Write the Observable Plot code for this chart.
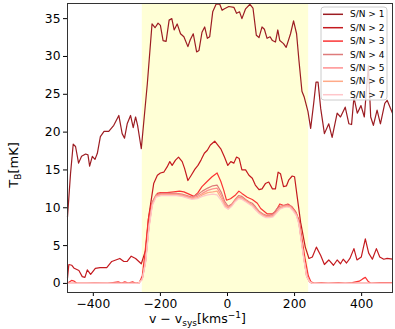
<!DOCTYPE html>
<html><head><meta charset="utf-8">
<script src="https://cdn.jsdelivr.net/npm/d3@7"></script>
<script src="https://cdn.jsdelivr.net/npm/@observablehq/plot@0.6"></script>
<style>body{margin:0;background:#fff;} svg{display:block}</style>
</head><body><div id="chart"></div>
<script>
const seriesNames = ["S/N > 1","S/N > 2","S/N > 3","S/N > 4","S/N > 5","S/N > 6","S/N > 7"];
const seriesColors = ["#9c1c22","#c41a1f","#fb3434","#de7b7b","#ff9090","#ffaa88","#ffc6ca"];
const xTicks = [-400,-200,0,200,400];
const yTicks = [0,5,10,15,20,25,30,35];
const band = {lo:-254, hi:242};

// S/N > 1
const v1 = [-477,-468,-460,-453,-444,-435,-423,-416,-411,-403,-395,-388,-379,-368,-354,-339,-324,-314,-307,-299,-289,-281,-274,-268,-257,-239,-225,-216,-207,-200,-192,-183,-174,-166,-159,-150,-140,-130,-118,-111,-102,-92,-85,-76,-68,-60,-53,-44,-34,-23,-16,-9,4,19,27,36,43,54,67,76,86,94,103,110,118,127,134,143,150,156,167,175,188,197,206,213,222,229,240,248,257,264,270,278,289,302,312,327,337,351,362,370,377,387,398,408,420,427,435,446,456,469,476,492];
const t1 = [8.8,14.5,18.4,18.1,15.9,16.8,17.1,17.0,15.5,16.8,16.4,17.2,19.4,20.1,20.1,20.9,22.2,19.8,19.2,21.1,22.2,20.6,22.0,20.9,17.8,26.4,34.3,33.8,34.4,34.1,32.1,32.0,34.8,35.0,33.5,34.3,33.0,32.6,31.3,32.2,33.0,30.6,30.8,33.2,33.9,32.4,32.6,35.9,36.9,36.9,36.1,36.3,36.6,36.5,35.7,35.9,35.0,36.3,36.9,36.4,32.8,32.5,33.9,33.6,32.4,32.6,32.1,31.9,33.5,32.1,31.7,31.2,33.0,34.7,33.0,29.5,25.4,24.6,22.7,20.5,23.8,26.6,26.6,23.1,19.8,21.1,19.3,22.5,22.0,23.3,21.1,21.0,24.6,22.5,23.5,22.0,28.8,22.0,20.9,22.9,21.1,23.8,24.2,22.5];

// S/N > 2
const v2 = [-477,-473,-464,-457,-443,-433,-425,-418,-408,-394,-380,-360,-345,-321,-309,-299,-287,-274,-257,-244,-235,-220,-209,-200,-190,-180,-172,-165,-155,-146,-135,-128,-118,-108,-97,-88,-79,-69,-60,-51,-38,-20,-9,1,10,19,27,35,43,54,64,74,83,94,103,113,123,134,143,151,158,167,176,183,193,200,208,218,232,243,253,265,278,289,302,316,327,337,345,355,365,377,386,399,411,421,432,444,454,466,476,492];
const t2 = [0.7,2.5,2.4,2.0,1.7,0.9,0.8,1.8,1.2,2.0,2.1,2.1,2.9,3.3,2.9,2.9,3.6,3.3,2.6,4.4,8.8,13.2,14.3,14.6,14.7,15.4,16.1,15.6,16.3,16.7,16.1,15.2,13.6,14.3,15.1,15.6,16.3,17.2,17.6,18.3,18.8,17.8,16.7,15.6,16.1,15.9,16.7,16.5,15.0,15.0,14.3,13.9,13.0,12.4,12.5,13.2,13.4,12.5,12.5,14.7,14.5,12.8,12.9,13.7,14.2,14.1,11.4,8.1,4.8,3.3,3.5,4.8,3.7,2.5,3.1,2.4,3.1,2.6,3.2,2.7,3.3,4.6,3.1,3.5,5.9,4.0,3.2,4.6,3.5,3.2,3.3,3.2];

// S/N > 3
const v3 = [-477,-475,-465,-457,-448,-419,-398,-357,-326,-316,-306,-296,-283,-273,-263,-254,-246,-236,-227,-220,-209,-200,-180,-160,-143,-130,-115,-100,-88,-76,-60,-46,-31,-20,-11,-3,9,24,34,43,59,74,89,99,118,134,143,156,168,180,193,203,213,220,232,241,249,259,280,300,331,351,372,393,403,411,419,428,454,492];
const t3 = [0.0,0.1,0.4,0.3,0.0,0.0,0.05,0.0,0.2,0.05,0.2,0.05,0.2,0.0,0.1,1.0,4.0,8.5,10.5,11.0,11.9,12.0,12.0,12.1,12.2,12.1,11.8,11.5,12.0,12.8,13.5,14.1,14.6,13.5,12.3,11.0,11.2,11.7,12.2,11.9,11.4,11.1,10.6,9.9,9.2,9.2,9.5,10.5,10.3,10.5,10.1,9.5,8.4,6.5,3.1,1.0,0.2,0.0,0.1,0.0,0.1,0.0,0.1,0.3,0.6,0.8,0.3,0.0,0.1,0.1];

// S/N > 4 ... 7 (shared velocity grid)
const vs = [-477,-316,-277,-265,-254,-244,-234,-224,-213,-198,-183,-167,-152,-136,-121,-106,-90,-75,-59,-44,-31,-18,-8,2,13,23,33,43,54,64,74,84,95,105,115,126,136,146,156,167,177,187,197,206,213,220,229,236,245,254,300,492];
const t4 = [0,0,0,0.05,0.65,3.1,7.8,10.8,11.7, 11.9,11.9,11.9,11.9,11.8,11.6,11.4,11.7,12.2,12.6, 12.9,13.0,12.0,10.8,10.2,10.5,11.1,11.6,11.5,11.1, 10.8,10.6,10.1,9.5,9.2,9.0,9.0,9.2,9.8,10.2, 10.3,10.4,10.3,9.8,9.2,8.1,5.9,3.0,1.0,0.2, 0,0,0];
const t5 = [0,0,0,0.05,0.6,3.0,7.6,10.6,11.6, 11.8,11.8,11.8,11.8,11.7,11.5,11.3,11.5,11.9,12.3, 12.5,12.6,11.6,10.5,10.0,10.4,11.0,11.4,11.3,11.0, 10.7,10.4,9.9,9.4,9.1,8.9,8.9,9.0,9.5,10.0, 10.2,10.3,10.2,9.7,9.1,8.0,5.8,3.0,1.0,0.2, 0,0,0];
const t6 = [0,0,0,0.05,0.55,2.9,7.5,10.5,11.5, 11.7,11.7,11.7,11.7,11.6,11.4,11.2,11.3,11.7,12.0, 12.1,12.2,11.2,10.3,9.9,10.3,10.9,11.3,11.2,10.9, 10.6,10.3,9.8,9.3,9.0,8.8,8.8,8.9,9.4,9.9, 10.1,10.2,10.1,9.6,9.0,7.9,5.7,2.9,0.9,0.2, 0,0,0];
const t7 = [0,0,0,0.05,0.5,2.8,7.3,10.3,11.4, 11.6,11.6,11.6,11.6,11.5,11.3,11.1,11.2,11.5,11.7, 11.8,11.7,10.9,10.1,9.8,10.2,10.8,11.2,11.1,10.8, 10.5,10.2,9.7,9.2,8.9,8.7,8.7,8.8,9.3,9.8, 10.0,10.1,10.0,9.5,8.9,7.8,5.6,2.8,0.9,0.2, 0,0,0];

const rows = [];
function add(name, vv, tt) { vv.forEach((v, i) => rows.push({s: name, v, t: tt[i]})); }
add(seriesNames[0], v1, t1);
add(seriesNames[1], v2, t2);
add(seriesNames[2], v3, t3);
add(seriesNames[3], vs, t4);
add(seriesNames[4], vs, t5);
add(seriesNames[5], vs, t6);
add(seriesNames[6], vs, t7);

const chart = Plot.plot({
  width: 395, height: 329,
  marginLeft: 67, marginRight: 3, marginTop: 3, marginBottom: 37,
  style: {fontFamily: "'DejaVu Sans', sans-serif", fontSize: "12.3px", background: "white", color: "black", overflow: "visible"},
  x: {domain: [-477, 492], ticks: xTicks, tickSize: 4, tickPadding: 3, label: null},
  y: {domain: [-1.2, 37], ticks: yTicks, tickSize: 4, tickPadding: 3, label: null},
  color: {domain: seriesNames, range: seriesColors},
  marks: [
    Plot.rect([band], {x1: "lo", x2: "hi", y1: -1.2, y2: 37, fill: "#ffffd6"}),
    Plot.line(rows, {x: "v", y: "t", z: "s", stroke: "s", strokeWidth: 1.2}),
    Plot.frame({stroke: "#333", strokeWidth: 1})
  ]
});
document.getElementById("chart").appendChild(chart);

const svg = d3.select(chart);
// x label
const xl = svg.append("text").attr("x", 149).attr("y", 323).attr("text-anchor", "start")
  .attr("font-family", "'DejaVu Sans', sans-serif").attr("font-size", 12.5).attr("fill", "black");
xl.append("tspan").text("v − v");
xl.append("tspan").attr("font-size", 9).attr("dy", 3).text("sys");
xl.append("tspan").attr("dy", -3).text("[kms");
xl.append("tspan").attr("font-size", 9).attr("dy", -5).text("−1");
xl.append("tspan").attr("dy", 5).text("]");
// y label
const yl = svg.append("text").attr("transform", "translate(18,165) rotate(-90)")
  .attr("text-anchor", "middle")
  .attr("font-family", "'DejaVu Sans', sans-serif").attr("font-size", 13).attr("fill", "black");
yl.append("tspan").text("T");
yl.append("tspan").attr("font-size", 9).attr("dy", 3).text("B");
yl.append("tspan").attr("dy", -3).text("[mK]");
// legend
const lg = svg.append("g");
lg.append("rect").attr("x", 321).attr("y", 7).attr("width", 66).attr("height", 93).attr("rx", 3)
  .attr("fill", "white").attr("fill-opacity", 0.8).attr("stroke", "#cccccc");
seriesNames.forEach((name, i) => {
  const y = 14.3 + i * 13.4;
  lg.append("line").attr("x1", 323).attr("x2", 343).attr("y1", y).attr("y2", y)
    .attr("stroke", seriesColors[i]).attr("stroke-width", 1.5);
  lg.append("text").attr("x", 350).attr("y", y).attr("dy", "0.35em").attr("text-anchor", "start")
    .attr("font-family", "'DejaVu Sans', sans-serif").attr("font-size", 9).attr("fill", "black").text(name);
});
</script>
</body></html>
